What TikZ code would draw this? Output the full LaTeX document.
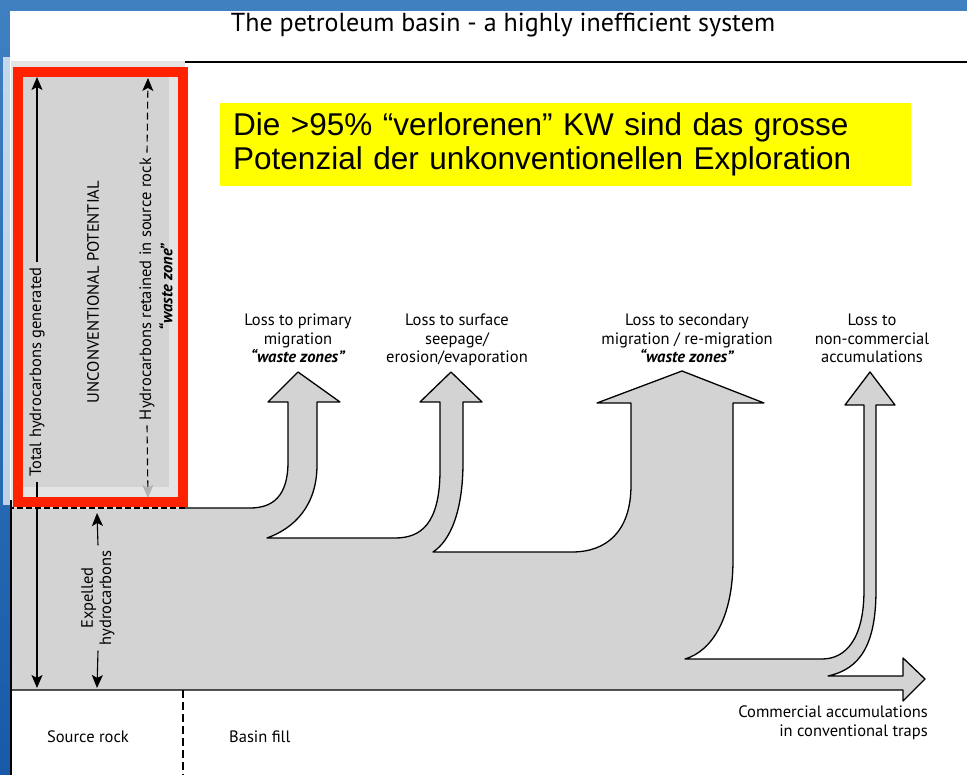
\documentclass[tikz,border=0pt]{standalone}
\usepackage{fontspec}
\setmainfont{PT Sans}
\newfontfamily\notefont{Liberation Sans}
\usepackage{tikz}
\usetikzlibrary{positioning, arrows.meta}

\definecolor{slideblue}{RGB}{62,128,192}
\definecolor{slidebluedark}{RGB}{24,90,168}
\definecolor{band}{RGB}{211,211,211}
\definecolor{bandlight}{RGB}{228,228,228}
\definecolor{hlred}{RGB}{255,34,0}
\definecolor{noteyellow}{RGB}{255,255,0}

\tikzset{
  lbl/.style={align=center, inner sep=0pt, font=\fontsize{16.5}{18.3}\selectfont},
  vlbl/.style={lbl, rotate=90, inner sep=5pt},
  flow/.style={draw=black, line width=1.3pt, line join=round},
  hc/.style={line width=1.1pt, -{Stealth[length=13pt, width=11pt, inset=3pt]}},
  hcd/.style={hc, dash pattern=on 7pt off 4pt},
  divider/.style={line width=1.2pt, dash pattern=on 8pt off 4pt},
  note/.style={fill=noteyellow, text width=665pt, inner xsep=13pt, minimum height=83pt,
    align=left, font=\notefont\fontsize{31.5}{34}\selectfont}
}

% outline of the gray band with its four branches
\def\flowpath{(11,690) -- (903,690) -- (903,701) -- (925,679) -- (903,658) -- (903,676)
  -- (828,676) .. controls (860,669) and (876,645) .. (876,590) -- (876,405)
  -- (895,405) -- (870,372) -- (845,405) -- (864,405) -- (864,590)
  .. controls (864,640) and (845,659) .. (822,659) -- (685,659)
  .. controls (712,651) and (733,618) .. (733,560) -- (733,403)
  -- (764,403) -- (682,371) -- (597,403) -- (631,403) -- (631,485)
  .. controls (631,532) and (606,552) .. (572,552) -- (433,552)
  .. controls (450,541) and (463,512) .. (463,462) -- (463,402)
  -- (482,402) -- (451,372) -- (420,402) -- (440,402) -- (440,470)
  .. controls (440,525) and (420,538) .. (395,538) -- (267,538)
  .. controls (295,528) and (317,505) .. (317,465) -- (317,402)
  -- (340,402) -- (298,372) -- (268,402) -- (288,402) -- (288,462)
  .. controls (288,497) and (272,508) .. (250,508) -- (185,508)}

\begin{document}
\begin{tikzpicture}[x=1pt, y=-1pt]
  \useasboundingbox (0,0) rectangle (967,775);
  \shade[top color=slideblue, bottom color=slidebluedark] (0,0) rectangle (967,775);
  \fill[white] (10,11) rectangle (967,775);

  % source rock column
  \fill[white, opacity=0.7] (3,57) rectangle (11,505);
  \fill[bandlight] (11,61) rectangle (185,508);
  \fill[band] (23,77) rectangle (169,487);

  \fill[band] \flowpath -- (11,508) -- cycle;
  \draw[flow] \flowpath;
  \draw[line width=1.2pt, dash pattern=on 6pt off 3pt] (185,508) -- (11,508);

  \draw[line width=2pt] (185,62) -- (967,62);
  \draw[line width=1.3pt] (11,500) -- (11,775);
  \draw[divider] (183,690) -- (183,775);

  \coordinate (gen top) at (37,77);
  \coordinate (gen bot) at (37,688);
  \coordinate (ret top) at (148,78);
  \coordinate (ret bot) at (148,498);
  \coordinate (exp top) at (97,513);
  \coordinate (exp bot) at (97,688);

  \node[vlbl] (gen) at (37,372) {Total hydrocarbons generated};
  \node[vlbl] (unconv) at (93,292) {UNCONVENTIONAL POTENTIAL};
  \node[vlbl] (ret) at (147,289) {Hydrocarbons retained in source rock};
  \node[vlbl, font=\fontsize{16.5}{18.3}\selectfont\bfseries\itshape] (waste) at (166,287) {“waste zone”};
  \node[vlbl] (exp) at (98,598) {Expelled\\hydrocarbons};

  \draw[hc] (gen.east) -- (gen top);
  \draw[hc] (gen.west) -- (gen bot);
  \draw[hcd] (ret.east) -- (ret top);
  \draw[hcd, -{Stealth[length=13pt, width=11pt, inset=3pt, color=gray!60]}] (ret.west) -- (ret bot);
  \draw[hc] (exp.east) -- (exp top);
  \draw[hc] (exp.west) -- (exp bot);

  \draw[hlred, line width=10pt] (18,72) rectangle (183,502);

  % branch labels
  \node[lbl, anchor=north] (loss1) at (298,314) {Loss to primary\\migration\\\textbf{\textit{“waste zones”}}};
  \node[lbl, anchor=north] (loss2) at (457,314) {Loss to surface\\seepage/\\erosion/evaporation};
  \node[lbl, anchor=north] (loss3) at (687,314) {Loss to secondary\\migration / re-migration\\\textbf{\textit{“waste zones”}}};
  \node[lbl, anchor=north] (loss4) at (872,314) {Loss to\\non-commercial\\accumulations};

  \node[lbl, anchor=base] (src) at (88,742) {Source rock};
  \node[lbl, anchor=base west] (basin) at (229,742) {Basin fill};
  \node[lbl, align=right, anchor=north east] (comm) at (928,706) {Commercial accumulations\\in conventional traps};

  \node[note, anchor=north west] (note) at (220,103) {Die >95\% “verlorenen” KW sind das grosse\\Potenzial der unkonventionellen Exploration};
  \node[font=\fontsize{26}{30}\selectfont] (title) at (503,25) {The petroleum basin - a highly inefficient system};
\end{tikzpicture}
\end{document}
